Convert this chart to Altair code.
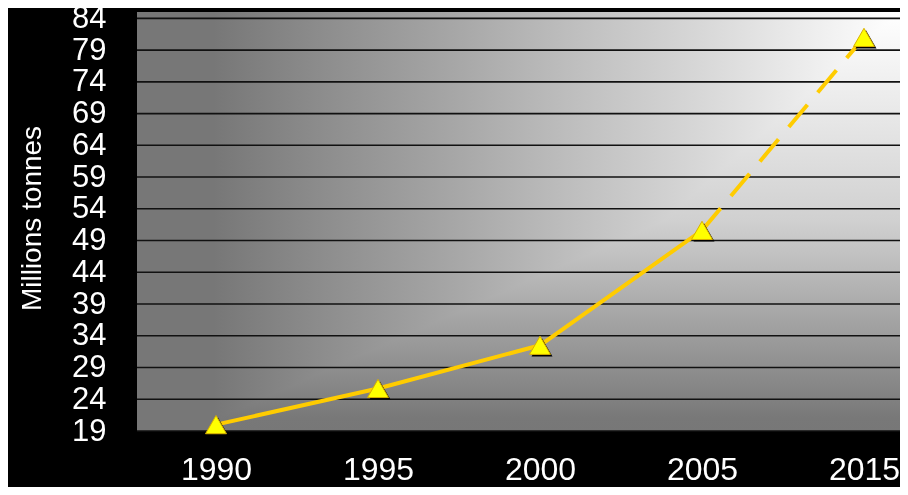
import altair as alt
import pandas as pd

# ---- data ----
years = ["1990", "1995", "2000", "2005", "2015"]
values = [20.0, 25.7, 32.5, 50.6, 81.0]
solid_rows = [0, 1, 2, 3]
dashed_rows = [3, 4]
y_ticks = [19, 24, 29, 34, 39, 44, 49, 54, 59, 64, 69, 74, 79, 84]
y_domain = [19, 85]
y_title = "Millions tonnes"

df = pd.DataFrame({"year": years, "value": values})
df_solid = df.iloc[solid_rows]
df_dashed = df.iloc[dashed_rows]
df_grid = pd.DataFrame({"value": y_ticks})
df_one = pd.DataFrame({"k": [0]})

FONT = "Liberation Sans"

x_enc = alt.X(
    "year:O",
    sort=years,
    scale=alt.Scale(padding=0.355, align=0.687),
    axis=alt.Axis(
        title=None, labelAngle=0, labelFontSize=32, labelColor="white",
        labelFont=FONT, labelBaseline="alphabetic", labelPadding=48,
        ticks=False, domain=False, grid=False, labelOverlap=False,
    ),
)
y_scale = alt.Scale(domain=y_domain, nice=False, zero=False)
y_axis = alt.Axis(
    values=y_ticks, title=y_title, titleColor="white", titleFont=FONT,
    titleFontSize=28, titleFontWeight="normal", titleAngle=-90,
    titleAlign="center", titleBaseline="middle", titleX=-105, titleY=206,
    labelFontSize=31, labelColor="white", labelFont=FONT, labelPadding=31,
    ticks=False, domain=False, grid=False, labelOverlap=False,
    labelBound=False, labelFlush=False,
)
y_enc = alt.Y("value:Q", scale=y_scale, axis=y_axis)

grad_h = alt.LinearGradient(
    gradient="linear",
    stops=[
        alt.GradientStop(offset=0, color="#777777"),
        alt.GradientStop(offset=0.1, color="#777777"),
        alt.GradientStop(offset=1, color="#ffffff"),
    ],
    x1=0, x2=1, y1=0, y2=0,
)
grad_v = alt.LinearGradient(
    gradient="linear",
    stops=[
        alt.GradientStop(offset=0, color="#ffffff"),
        alt.GradientStop(offset=0.5, color="#d0d0d0"),
        alt.GradientStop(offset=0.97, color="#787878"),
        alt.GradientStop(offset=1, color="#777777"),
    ],
    x1=0, x2=0, y1=0, y2=1,
)

bg_h = alt.Chart(df_one).mark_rect(color=grad_h).encode(
    x=alt.value(0), x2=alt.value("width"), y=alt.value(0), y2=alt.value("height")
)
bg_v = alt.Chart(df_one).mark_rect(color=grad_v, blend="darken").encode(
    x=alt.value(0), x2=alt.value("width"), y=alt.value(0), y2=alt.value("height")
)

grid = alt.Chart(df_grid).mark_rule(color="#111111", strokeWidth=1.6).encode(
    x=alt.value(0), x2=alt.value("width"), y=y_enc,
)

line_solid = alt.Chart(df_solid).mark_line(color="#FFCC00", strokeWidth=4).encode(
    x=x_enc, y=y_enc
)
line_dashed = alt.Chart(df_dashed).mark_line(
    color="#FFCC00", strokeWidth=4, strokeDash=[29, 16]
).encode(x=x_enc, y=y_enc)

shadow = alt.Chart(df).mark_point(
    shape="triangle-up", filled=True, color="black", size=440, opacity=1,
    xOffset=2, yOffset=2,
).encode(x=x_enc, y=y_enc)
markers = alt.Chart(df).mark_point(
    shape="triangle-up", filled=True, fill="#FFFF00", stroke="#D9B000",
    strokeWidth=1, size=440, opacity=1,
).encode(x=x_enc, y=y_enc)

chart = (
    alt.layer(bg_h, bg_v, grid, line_solid, line_dashed, shadow, markers)
    .properties(
        width=763, height=419,
        autosize=alt.AutoSizeParams(type="none"),
        padding={"left": 129, "top": 4, "right": 0, "bottom": 56},
        background="black",
    )
    .configure_view(stroke=None)
)

chart.save("out.html", embed_options={"renderer": "svg", "actions": False})
